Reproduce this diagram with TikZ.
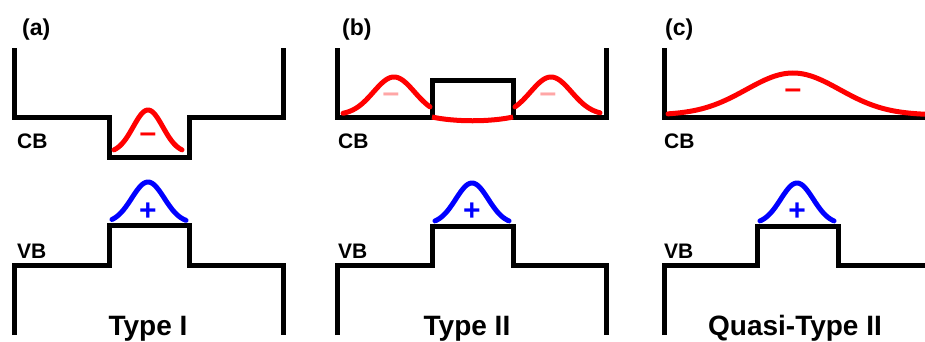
\documentclass[tikz,border=0pt]{standalone}
\usepackage{fontspec}
\setmainfont{Liberation Sans}

\begin{document}
\begin{tikzpicture}[x=1pt, y=-1pt,
    band/.style={line width=5pt, black},
    electron/.style={line width=5pt, red, line cap=round},
    hole/.style={line width=5pt, blue, line cap=round},
    lab/.style={font=\fontsize{21}{21}\selectfont\bfseries, inner sep=0pt, anchor=base west},
    panel/.style={font=\fontsize{23}{23}\selectfont\bfseries, inner sep=0pt, anchor=base west},
    title/.style={font=\fontsize{28}{28}\selectfont\bfseries, inner sep=0pt, anchor=base},
    charge/.style={font=\fontsize{30}{30}\selectfont\bfseries, inner sep=0pt}]
    \useasboundingbox (0,0) rectangle (925,341);

    % (a) Type I
    \draw[band] (14,48) -- (14,117) -- (109,117) -- (109,157) -- (189,157) -- (189,117) -- (283,117) -- (283,48);
    \draw[band] (14,335) -- (14,265) -- (109,265) -- (109,225) -- (189,225) -- (189,265) -- (283,265) -- (283,335);
    \draw[electron, domain=114:182, samples=60] plot (\x, {153-43*exp(-((\x-148)/21)^2)});
    \draw[hole, domain=112:186, samples=60] plot (\x, {223-41*exp(-((\x-148)/23)^2)});
    \node[charge, red] (ma) at (148,138) {–};
    \node[charge, blue] (pa) at (148,212) {+};
    \node[panel] (pnla) at (22,35) {(a)};
    \node[lab] (cba) at (17,148) {CB};
    \node[lab] (vba) at (17,258) {VB};
    \node[title] (ta) at (148,335) {Type I};

    % (b) Type II
    \draw[band] (337,48) -- (337,117) -- (432,117) -- (432,80) -- (513,80) -- (513,117) -- (606,117) -- (606,48);
    \draw[band] (337,335) -- (337,265) -- (432,265) -- (432,226) -- (513,226) -- (513,265) -- (606,265) -- (606,335);
    \draw[electron, domain=343:430, samples=60] plot (\x, {115-38*exp(-((\x-394)/29)^2)});
    \draw[electron, domain=515:600, samples=60] plot (\x, {115-38*exp(-((\x-551)/29)^2)});
    \draw[electron, line cap=butt] (432,117) .. controls (455,122) and (490,122) .. (513,117);
    \draw[hole, domain=435:509, samples=60] plot (\x, {224-41*exp(-((\x-472)/23)^2)});
    \node[charge, red!35] (mb1) at (391,98) {–};
    \node[charge, red!35] (mb2) at (548,98) {–};
    \node[charge, blue] (pb) at (472,212) {+};
    \node[panel] (pnlb) at (342,35) {(b)};
    \node[lab] (cbb) at (338,148) {CB};
    \node[lab] (vbb) at (338,258) {VB};
    \node[title] (tb) at (467,335) {Type II};

    % (c) Quasi-Type II
    \draw[band] (664,48) -- (664,117) -- (925,117);
    \draw[band] (664,335) -- (664,265) -- (757,265) -- (757,226) -- (838,226) -- (838,265) -- (925,265);
    \draw[electron, domain=668:925, samples=100] plot (\x, {115-42*exp(-((\x-793)/66)^2)});
    \draw[hole, domain=760:834, samples=60] plot (\x, {224-41*exp(-((\x-797)/23)^2)});
    \node[charge, red] (mc) at (793,94) {–};
    \node[charge, blue] (pc) at (797,212) {+};
    \node[panel] (pnlc) at (665,35) {(c)};
    \node[lab] (cbc) at (664,148) {CB};
    \node[lab] (vbc) at (664,258) {VB};
    \node[title] (tc) at (795,335) {Quasi-Type II};

\end{tikzpicture}
\end{document}
